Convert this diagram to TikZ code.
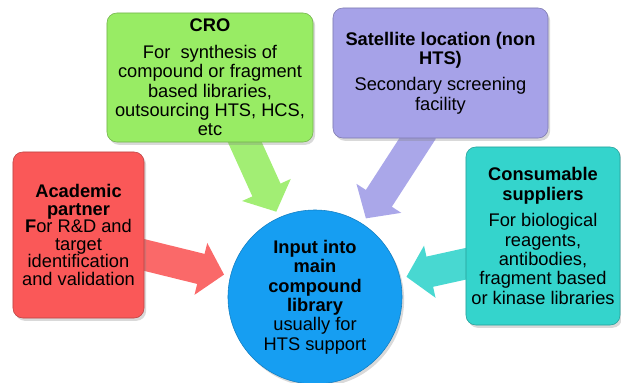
\documentclass[tikz,border=0pt]{standalone}
\usepackage{fontspec}
\setmainfont{Liberation Sans}
\usetikzlibrary{arrows.meta, calc, backgrounds, shadows}
\definecolor{acadcolor}{RGB}{250, 88, 88}
\definecolor{crocolor} {RGB}{152, 236, 100}
\definecolor{satcolor} {RGB}{166, 162, 232}
\definecolor{conscolor}{RGB}{52, 212, 204}
\definecolor{hubcolor} {RGB}{22, 158, 242}
\tikzset{
	partnerbox/.style={
		rectangle, rounded corners=7pt,
		align=center, inner sep=2pt,
		font=\fontsize{13}{13.8}\selectfont,
		line width=0.4pt,
		drop shadow={opacity=0.3, shadow xshift=1.5pt, shadow yshift=-2pt}
	},
	hubcircle/.style={
		circle, minimum size=4.35cm, inner sep=0pt,
		align=center, font=\fontsize{13}{13.8}\selectfont,
		fill=hubcolor, draw=hubcolor!80!black, line width=0.4pt,
		drop shadow={opacity=0.3, shadow xshift=1.5pt, shadow yshift=-2pt}
	},
	feedarrow/.style={
		-{Triangle[length=17pt, width=37pt]},
		line width=22pt, shorten >=4.5pt
	}
}

\begin{document}
\begin{tikzpicture}[x=0.025cm, y=-0.025cm]
	\useasboundingbox (0,0) rectangle (621,383);
	
	%% ═══════════════════════════════
	%%  TOP ROW — CRO + satellite site
	%% ═══════════════════════════════
	\node[partnerbox, fill=crocolor, draw=crocolor!75!black,
	minimum width=5.15cm, minimum height=3.225cm] (cro) at (210,77.5)
	{\textbf{CRO}\\[5pt]For~ synthesis of\\compound or fragment\\based libraries,\\outsourcing HTS, HCS,\\etc};
	
	\node[partnerbox, fill=satcolor, draw=satcolor!75!black,
	minimum width=5.375cm, minimum height=3.25cm] (sat) at (440.5,73)
	{\textbf{Satellite location (non}\\\textbf{HTS)}\\[5pt]Secondary screening\\facility};
	
	%% ═══════════════════════════════
	%%  SIDES — academic partner + suppliers
	%% ═══════════════════════════════
	\node[partnerbox, fill=acadcolor, draw=acadcolor!75!black,
	font=\fontsize{13}{12.4}\selectfont,
	minimum width=3.275cm, minimum height=4.15cm] (acad) at (78.5,235)
	{\textbf{Academic}\\\textbf{partner}\\\textbf{F}or R\&D and\\target\\identification\\and validation};
	
	\node[partnerbox, fill=conscolor, draw=conscolor!75!black,
	minimum width=3.85cm, minimum height=4.45cm] (cons) at (543,236)
	{\textbf{Consumable}\\\textbf{suppliers}\\[5pt]For biological\\reagents,\\antibodies,\\fragment based\\or kinase libraries};
	
	%% ═══════════════════════════════
	%%  CENTRE — compound library
	%% ═══════════════════════════════
	\node[hubcircle] (hub) at (315,297)
	{\textbf{Input into}\\\textbf{main}\\\textbf{compound}\\\textbf{library}\\usually for\\HTS support};
	
	%% ═══════════════════════════════
	%%  ARROWS (under the boxes)
	%% ═══════════════════════════════
	\begin{scope}[on background layer]
		% CRO -> library
		\draw[feedarrow, color=crocolor!90!white] ([xshift=0.78cm, yshift=0.2cm]cro.south) -- (hub);
		% satellite -> library
		\draw[feedarrow, color=satcolor!95!white] ([xshift=-0.44cm, yshift=0.2cm]sat.south) -- (hub);
		% academic -> library
		\draw[feedarrow, color=acadcolor!90!white] ([xshift=-0.2cm, yshift=-0.45cm]acad.east) -- (hub);
		% suppliers -> library
		\draw[feedarrow, color=conscolor!90!white] ([xshift=0.2cm, yshift=-0.65cm]cons.west) -- (hub);
	\end{scope}
\end{tikzpicture}
\end{document}
